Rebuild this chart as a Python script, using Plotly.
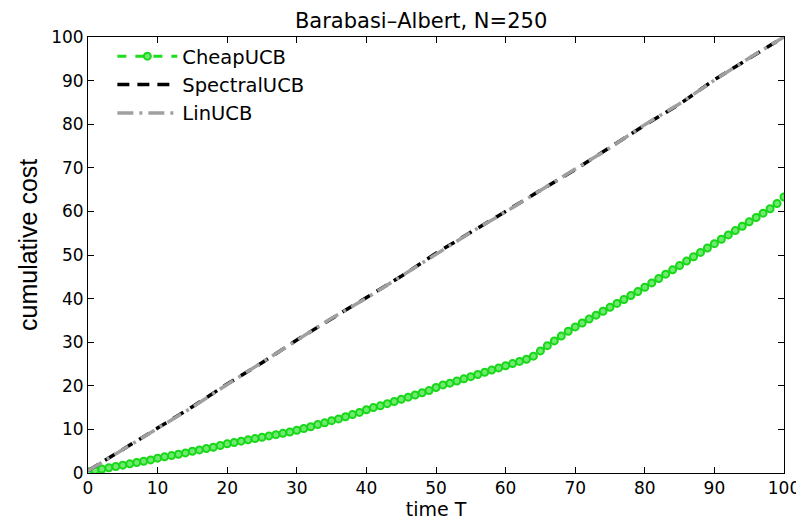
import plotly.graph_objects as go

T_cheap = list(range(0, 101))
cheap = [0.3,
         0.6, 0.9, 1.2, 1.5, 1.8, 2.1, 2.4, 2.7, 3.0, 3.4,
         3.7, 4.0, 4.3, 4.6, 5.0, 5.3, 5.6, 5.9, 6.3, 6.7,
         7.0, 7.3, 7.6, 7.9, 8.2, 8.5, 8.8, 9.1, 9.4, 9.8,
         10.2, 10.6, 11.1, 11.5, 12.0, 12.4, 12.9, 13.4, 13.9, 14.5,
         15.0, 15.4, 15.9, 16.4, 16.9, 17.4, 17.9, 18.4, 18.9, 19.6,
         20.2, 20.6, 21.1, 21.6, 22.1, 22.6, 23.1, 23.6, 24.1, 24.6,
         25.1, 25.6, 26.1, 26.8, 28.0, 29.2, 30.3, 31.4, 32.5, 33.5,
         34.4, 35.3, 36.2, 37.1, 38.0, 38.9, 39.8, 40.7, 41.6, 42.6,
         43.6, 44.6, 45.6, 46.6, 47.6, 48.6, 49.6, 50.6, 51.6, 52.6,
         53.6, 54.6, 55.6, 56.6, 57.6, 58.6, 59.6, 60.6, 61.8, 63.3]

T_lin = [0, 5, 10, 15, 20, 25, 30, 35, 40, 45, 50, 55, 60, 65, 70, 75, 80, 85, 90, 95, 100]
spectral = [0.5, 5.5, 10.3, 15.2, 20.4, 25.3, 30.5, 35.4, 40.2, 45.1, 50.4, 55.3, 60.0, 64.8, 69.6, 74.7, 79.8, 84.6, 90.2, 95.1, 100.0]
linucb = [0.5, 5.4, 10.2, 15.1, 20.3, 25.3, 30.4, 35.5, 40.1, 45.2, 50.3, 55.2, 59.9, 64.9, 69.7, 74.6, 79.9, 84.7, 90.1, 95.2, 100.0]

x_ticks = [0, 10, 20, 30, 40, 50, 60, 70, 80, 90, 100]
y_ticks = [0, 10, 20, 30, 40, 50, 60, 70, 80, 90, 100]

font_main = "DejaVu Sans, Liberation Sans, Arial, sans-serif"
font_narrow = "Liberation Sans Narrow, Liberation Sans, Arial, sans-serif"

fig = go.Figure()
fig.add_trace(go.Scatter(
    x=T_cheap, y=cheap, name="CheapUCB", mode="lines+markers",
    line=dict(color="rgb(30,220,30)", width=3, dash="dash"),
    marker=dict(symbol="circle", size=7, color="rgb(110,235,110)",
                line=dict(color="rgb(25,215,25)", width=2)),
))
fig.add_trace(go.Scatter(
    x=T_lin, y=spectral, name="SpectralUCB", mode="lines",
    line=dict(color="black", width=3.5, dash="12px,8px"),
))
fig.add_trace(go.Scatter(
    x=T_lin, y=linucb, name="LinUCB", mode="lines",
    line=dict(color="rgb(160,160,160)", width=3.5, dash="16px,6px,3px,6px"),
))

axis_common = dict(
    showgrid=False, zeroline=False, showline=True, linecolor="black", linewidth=1,
    mirror="ticks", ticks="inside", ticklen=6, tickcolor="black", tickwidth=1,
    tickfont=dict(family=font_main, size=17, color="black"),
    automargin=False,
)

fig.update_layout(
    width=796, height=512,
    paper_bgcolor="white", plot_bgcolor="white",
    margin=dict(l=80, r=20, t=29, b=47),
    title=dict(text="Barabasi\u2013Albert, N=250", x=0.519, xanchor="center",
               y=0.99, yanchor="top", automargin=False, pad=dict(t=0, b=0),
               font=dict(family=font_main, size=21, color="black")),
    xaxis=dict(range=[0, 100], tickvals=x_ticks, ticktext=[str(v) for v in x_ticks],
               title=dict(text="time T", standoff=0,
                          font=dict(family=font_main, size=19, color="black")),
               **axis_common),
    yaxis=dict(range=[0, 100], tickvals=y_ticks, ticktext=[str(v) for v in y_ticks],
               **axis_common),
    annotations=[dict(text="cumulative cost", textangle=-90, showarrow=False,
                      xref="paper", yref="paper", x=-0.0862, y=0.523,
                      xanchor="center", yanchor="middle",
                      font=dict(family=font_narrow, size=25, color="black"))],
    legend=dict(x=0.035, y=1.0, xanchor="left", yanchor="top",
                bgcolor="rgba(255,255,255,0)", borderwidth=0,
                font=dict(family=font_main, size=19.5, color="black"),
                tracegroupgap=0, itemwidth=60),
    showlegend=True,
)

fig.write_html("out.html")
